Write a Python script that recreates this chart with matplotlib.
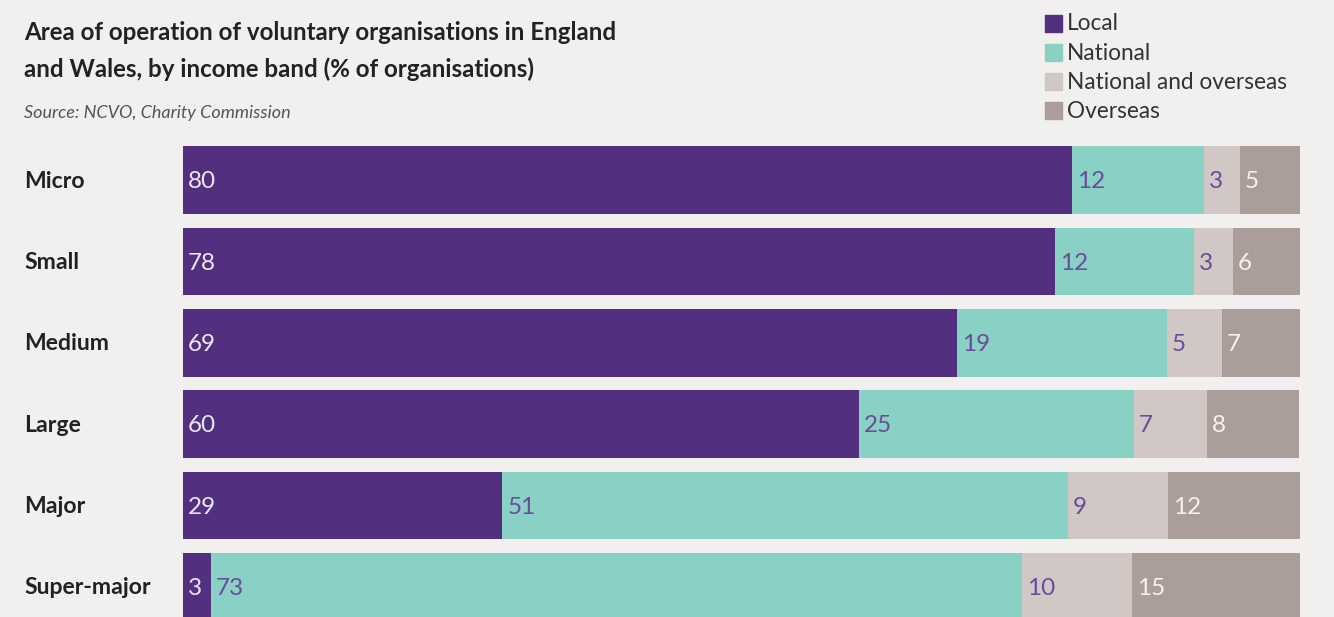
import numpy as np
import matplotlib
matplotlib.use('Agg')
import matplotlib.pyplot as plt
from matplotlib.patches import Rectangle

# data
bands = ['Micro', 'Small', 'Medium', 'Large', 'Major', 'Super-major']
series = ['Local', 'National', 'National and overseas', 'Overseas']
# shown labels (rounded %)
local_lbl = [80, 78, 69, 60, 29, 3]
national_lbl = [12, 12, 19, 25, 51, 73]
natover_lbl = [3, 3, 5, 7, 9, 10]
overseas_lbl = [5, 6, 7, 8, 12, 15]
# bar widths as drawn (unrounded shares)
local = [79.6, 78.1, 69.3, 60.5, 28.6, 2.5]
national = [11.8, 12.4, 18.8, 24.6, 50.6, 72.6]
natover = [3.2, 3.5, 4.9, 6.6, 9.0, 9.9]
overseas = [5.4, 6.0, 7.0, 8.2, 11.8, 15.0]

colors = ['#52307f', '#8ad1c5', '#d1c8c5', '#ab9d99']
txtcol = ['#ece6f3', '#6a4c9c', '#6a4c9c', '#f4f1f0']
bg = '#f1f0ee'

plt.rcParams['font.family'] = ['Lato', 'DejaVu Sans']

W, H = 1334, 617
fig = plt.figure(figsize=(W/100, H/100), dpi=100, facecolor=bg)

ax = fig.add_axes([183/W, 0, (1300-183)/W, (617-140)/H])
ax.set_facecolor(bg)
ax.axis('off')

y = np.arange(len(bands))
widths = [local, national, natover, overseas]
labels = [local_lbl, national_lbl, natover_lbl, overseas_lbl]
left = np.zeros(len(bands))
for k in range(4):
    w = np.array(widths[k])
    ax.barh(y, w, left=left, height=0.83, color=colors[k], linewidth=0)
    for i in range(len(bands)):
        ax.text(left[i] + 0.45, y[i] + 0.02, str(labels[k][i]), ha='left', va='center',
                fontsize=17.5, fontweight='normal', color=txtcol[k])
    left = left + w

ax.set_xlim(0, 100)
ax.set_ylim((617-180)/81.4, -40/81.4)

# category labels
for i, b in enumerate(bands):
    yy = 1 - (181 + 81.4*i)/H
    fig.text(24/W, yy, b, ha='left', va='center', fontsize=16.6,
             fontweight='bold', color='#222222')

# title and source
fig.text(24/W, 1 - 32/H, 'Area of operation of voluntary organisations in England',
         ha='left', va='center', fontsize=17.4, fontweight='bold', color='#222222')
fig.text(24/W, 1 - 69/H, 'and Wales, by income band (% of organisations)',
         ha='left', va='center', fontsize=17.4, fontweight='bold', color='#222222')
fig.text(24/W, 1 - 113/H, 'Source: NCVO, Charity Commission', ha='left', va='center',
         fontsize=13, fontstyle='italic', fontweight='normal', color='#555555')

# legend
for k, s in enumerate(series):
    yc = 23 + 29.3*k
    fig.patches.append(Rectangle((1045/W, 1 - (yc+8.5)/H), 17/W, 17/H,
                                 transform=fig.transFigure, color=colors[k]))
    fig.text(1067/W, 1 - (yc+1)/H, s, ha='left', va='center', fontsize=16.3,
             fontweight='normal', color='#333333')

fig.savefig('out.png', dpi=100, facecolor=bg)
